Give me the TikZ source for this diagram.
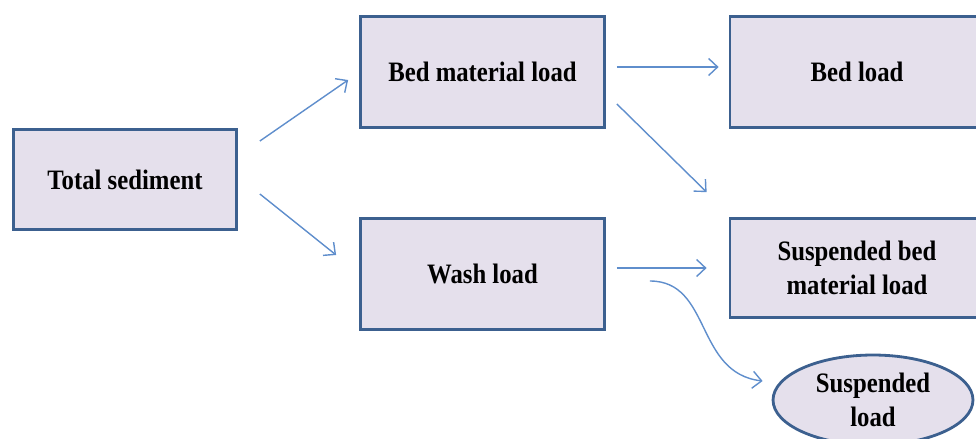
\documentclass[tikz,border=0pt]{standalone}
\usepackage{fontspec}
\setmainfont{Liberation Serif}
\newfontfamily\boxfont[FakeStretch=0.88]{Liberation Serif}
\usetikzlibrary{positioning}
\usetikzlibrary{arrows.meta}
\usetikzlibrary{calc}
\usetikzlibrary{shapes.geometric}

\definecolor{boxfill}{RGB}{229,224,236}
\definecolor{boxline}{RGB}{60,96,143}
\definecolor{flowline}{RGB}{95,142,204}

\begin{document}
\begin{tikzpicture}[x=0.02cm, y=-0.02cm,
  loadbox/.style={draw=boxline, fill=boxfill, line width=1.6pt, align=center,
    inner sep=0pt, font=\boxfont\bfseries\fontsize{16}{19}\selectfont},
  flow/.style={draw=flowline, line width=0.8pt, -{Straight Barb[length=1.8mm, width=3.4mm]}}]
  % Frame of the picture
  \useasboundingbox (0,0) rectangle (976,439);
  \clip (0,0) rectangle (976,439);

  % The boxes
  \node[loadbox, minimum width=4.46cm, minimum height=2cm] (total) at (125,179.5) {Total sediment};
  \node[loadbox, minimum width=4.88cm, minimum height=2.22cm] (bedmat) at (482.5,72) {Bed material load};
  \node[loadbox, minimum width=4.88cm, minimum height=2.22cm] (wash) at (482.5,274) {Wash load};
  \node[loadbox, minimum width=5.08cm, minimum height=2.22cm] (bedload) at (857,72) {Bed load};
  \node[loadbox, minimum width=5.08cm, minimum height=1.98cm] (suspbed) at (857,268) {Suspended bed\\material load};
  \node[loadbox, ellipse, minimum width=4cm, minimum height=1.8cm] (suspload) at (873,400) {Suspended\\load};

  % Draw the arrows between the boxes
  \draw[flow] ($(total.east)+(22,-38.5)$) -- ($(bedmat.west)+(-11,8)$);
  \draw[flow] ($(total.east)+(22,14.5)$) -- ($(wash.west)+(-23,-19)$);
  \draw[flow] ($(bedmat.east)+(11,-5)$) -- ($(bedload.west)+(-10,-5)$);
  \draw[flow] ($(bedmat.east)+(11,32)$) -- ($(suspbed.north west)+(-22,-25)$);
  \draw[flow] ($(wash.east)+(11,-6)$) -- ($(suspbed.west)+(-22,0)$);
  \draw[flow] ($(wash.east)+(44,7)$) .. controls +(62,0) and +(-68,-8) .. ($(suspload.west)+(-9,-19)$);
\end{tikzpicture}
\end{document}
